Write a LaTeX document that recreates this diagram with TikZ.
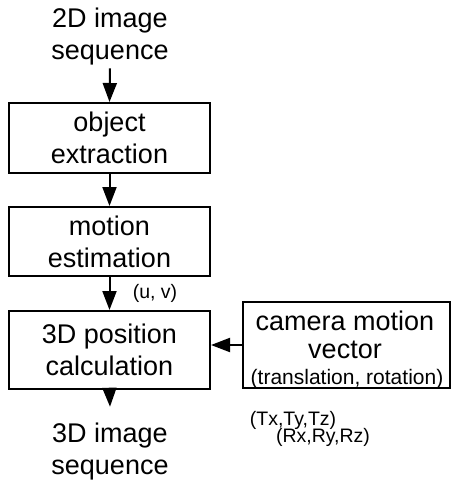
\documentclass[tikz,border=0pt]{standalone}
\usepackage{fontspec}
\setmainfont{Liberation Sans}
\usetikzlibrary{arrows.meta}
\tikzset{
  big/.style={font=\fontsize{27}{32}\selectfont},
  small/.style={font=\fontsize{19.5}{22}\selectfont},
  mid/.style={font=\fontsize{21}{24}\selectfont},
  stagebox/.style={draw, line width=2pt, minimum width=201pt, inner sep=0pt, align=center, big},
  plain/.style={inner sep=0pt, align=center},
  flow/.style={line width=2pt, -{Triangle[width=14pt,length=19pt]}}
}
\begin{document}
\begin{tikzpicture}[x=1pt,y=-1pt]
  \useasboundingbox (0,0) rectangle (451,484);
  % input
  \node[plain, big, inner ysep=3pt] (src) at (110,36.5) {2D image\\sequence};
  % processing stages
  \node[stagebox, minimum height=70pt] (obj) at (109.5,138) {object\\extraction};
  \node[stagebox, minimum height=69pt] (mot) at (109.5,241.5) {motion\\estimation};
  \node[stagebox, minimum height=78pt] (pos) at (109.5,350) {3D position\\calculation};
  % camera input box
  \node[draw, line width=2pt, minimum width=207pt, minimum height=86pt, inner sep=0pt] (cam) at (346.5,345) {};
  \node[plain, big, anchor=base] (camA) at (345,330) {camera motion};
  \node[plain, big, anchor=base] (camB) at (345,358) {vector};
  \node[plain, mid, anchor=base] (camC) at (347,384) {(translation, rotation)};
  % output
  \node[plain, big, inner ysep=16.5pt] (out) at (110,452) {3D image\\sequence};
  % labels
  \node[plain, small] (uv) at (155,293) {(u, v)};
  \node[plain, small] (tr) at (293,420) {(Tx,Ty,Tz)};
  \node[plain, small] (rt) at (323,437) {(Rx,Ry,Rz)};
  % connectors
  \draw[flow] (src.south) -- (obj.north);
  \draw[flow] (obj.south) -- (mot.north);
  \draw[flow] (mot.south) -- (pos.north);
  \draw[flow] (pos.south) -- (out.north);
  \draw[flow] (cam.west) -- (cam.west -| pos.east);
\end{tikzpicture}
\end{document}
